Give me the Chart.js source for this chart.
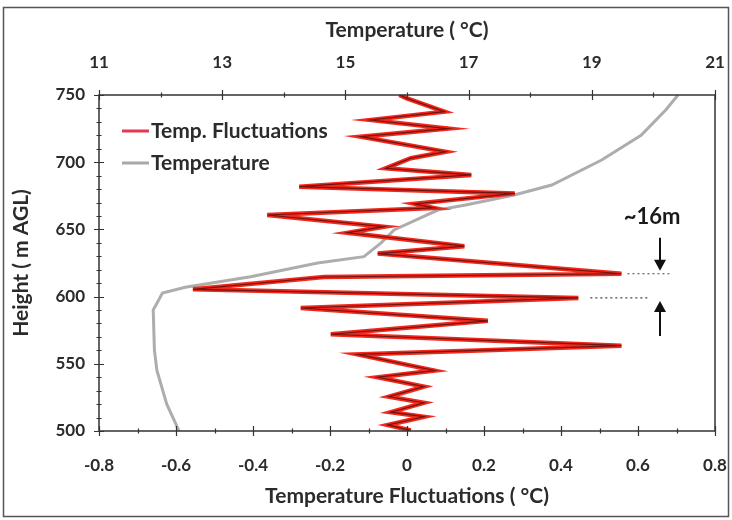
<!DOCTYPE html>
<html>
<head>
<meta charset="utf-8">
<style>
  html, body { margin: 0; padding: 0; background: #fff; }
  #wrap { width: 732px; height: 520px; }
</style>
</head>
<body>
<div id="wrap"><canvas id="myChart" width="732" height="520"></canvas></div>
<script src="https://cdn.jsdelivr.net/npm/chart.js@4.4.0/dist/chart.umd.min.js"></script>
<script>
    // profile from top (750 m) down to the ground station level (500 m)
    const fluctHeight = [750, 747.5, 737.6, 731.4, 725, 719, 707.8, 703, 695.5, 690.5, 681.8, 676.8,
        669, 666, 660.7, 652, 647.5, 637.5, 632, 617, 614.6, 605.4, 599, 591.5, 582, 572, 563.5,
        557, 545, 540, 533, 525.5, 521, 514, 510.6, 504.5, 500.5];
    const fluctValue = [-0.02, 0.0, 0.097, -0.094, 0.106, -0.12, 0.10, 0.01, -0.055, 0.167, -0.28, 0.28,
        0.02, 0.07, -0.363, -0.06, -0.154, 0.149, -0.076, 0.557, -0.216, -0.556, 0.445, -0.276, 0.21, -0.198, 0.557,
        -0.128, 0.071, -0.076, 0.044, -0.047, 0.044, -0.042, 0.044, -0.05, 0.01];

    const tempHeight = [750, 738.8, 720, 701.6, 683, 675.6, 668, 664.4, 649.6, 640, 629.7, 625, 614.8,
        607, 602.7, 590, 560, 545, 520, 500];
    const tempValue = [20.4, 20.2, 19.8, 19.16, 18.35, 17.74, 16.93, 16.5, 15.79, 15.58, 15.3, 14.55, 13.46,
        12.4, 12.03, 11.88, 11.9, 11.94, 12.1, 12.3];

    const heightTicks = [500, 550, 600, 650, 700, 750];
    const fluctTicks = [-0.8, -0.6, -0.4, -0.2, 0, 0.2, 0.4, 0.6, 0.8];
    const tempTicks = [11, 13, 15, 17, 19, 21];

    // the two peaks that bracket the marked layer
    const gapLabel = '~16m';
    const gapPeaks = [19, 22];

    const textColor = '#2b2b2b';
    const fontFamily = 'Lato, "Liberation Sans", sans-serif';

    function toPoints(xs, ys) {
        return xs.map((x, i) => ({ x: x, y: ys[i] }));
    }

    function fixedTicks(values) {
        return function (scale) {
            scale.ticks = values.map(v => ({ value: v }));
        };
    }

    // keep the plot box fixed, labels may overhang the edges
    function fixedBox(size) {
        return function (scale) {
            if (scale.isHorizontal()) scale.height = size; else scale.width = size;
            scale.paddingLeft = 0; scale.paddingRight = 0;
            scale.paddingTop = 0; scale.paddingBottom = 0;
        };
    }

    // frame, tick marks, legend and the layer annotation
    const decorations = {
        id: 'decorations',
        beforeDraw(chart) {
            const c = chart.ctx;
            c.save();
            c.fillStyle = '#fff';
            c.fillRect(0, 0, chart.width, chart.height);
            c.strokeStyle = '#555';
            c.lineWidth = 1.5;
            c.strokeRect(3.5, 7.5, chart.width - 7, chart.height - 11);
            c.restore();
        },
        afterDraw(chart) {
            const c = chart.ctx;
            const a = chart.chartArea;
            const sx = chart.scales.x, sx2 = chart.scales.x2, sy = chart.scales.y;
            c.save();
            c.strokeStyle = '#333';
            c.lineWidth = 1.5;
            c.strokeRect(a.left, a.top, a.right - a.left, a.bottom - a.top);

            c.lineWidth = 1.2;
            c.beginPath();
            // bottom axis: major every 0.2, minor every 0.1
            for (let i = -8; i <= 8; i++) {
                const px = Math.round(sx.getPixelForValue(i / 10)) + 0.5;
                const len = i % 2 === 0 ? 5 : 2.5;
                c.moveTo(px, a.bottom - len); c.lineTo(px, a.bottom + len);
            }
            // top axis: major every 2, minor every 1
            for (let t = 11; t <= 21; t++) {
                const px = Math.round(sx2.getPixelForValue(t)) + 0.5;
                const len = (t - 11) % 2 === 0 ? 5 : 2.5;
                c.moveTo(px, a.top - len); c.lineTo(px, a.top + len);
            }
            // left axis: major every 50 m, minor every 10 m
            for (let h = 500; h <= 750; h += 10) {
                const py = Math.round(sy.getPixelForValue(h)) + 0.5;
                const len = h % 50 === 0 ? 5 : 2.5;
                c.moveTo(a.left - len, py); c.lineTo(a.left + len, py);
            }
            c.stroke();

            // legend
            c.font = 'bold 21px ' + fontFamily;
            c.textBaseline = 'middle';
            const items = [['Temp. Fluctuations', '#e8384f', 131], ['Temperature', '#a8a8a8', 163]];
            items.forEach(([label, color, y]) => {
                c.strokeStyle = color;
                c.lineWidth = 3;
                c.beginPath(); c.moveTo(122, y); c.lineTo(149, y); c.stroke();
                c.fillStyle = textColor;
                c.fillText(label, 151, y);
            });

            // dotted lines at the two peaks and the arrows between them
            const p1 = { x: sx.getPixelForValue(fluctValue[gapPeaks[0]]), y: sy.getPixelForValue(fluctHeight[gapPeaks[0]]) };
            const p2 = { x: sx.getPixelForValue(fluctValue[gapPeaks[1]]), y: sy.getPixelForValue(fluctHeight[gapPeaks[1]]) };
            const ax = 660;
            c.strokeStyle = '#444';
            c.lineWidth = 1.2;
            c.setLineDash([2, 3]);
            c.beginPath();
            c.moveTo(p1.x + 6, p1.y); c.lineTo(672, p1.y);
            c.moveTo(p2.x + 12, p2.y); c.lineTo(648, p2.y);
            c.stroke();
            c.setLineDash([]);

            c.strokeStyle = '#111';
            c.fillStyle = '#111';
            c.lineWidth = 2;
            c.beginPath();
            c.moveTo(ax, p1.y - 36); c.lineTo(ax, p1.y - 8);
            c.moveTo(ax, p2.y + 38); c.lineTo(ax, p2.y + 8);
            c.stroke();
            c.beginPath();
            c.moveTo(ax - 6, p1.y - 14); c.lineTo(ax + 6, p1.y - 14); c.lineTo(ax, p1.y - 3); c.closePath();
            c.moveTo(ax - 6, p2.y + 14); c.lineTo(ax + 6, p2.y + 14); c.lineTo(ax, p2.y + 3); c.closePath();
            c.fill();

            c.font = 'bold 22px ' + fontFamily;
            c.textAlign = 'center';
            c.fillStyle = '#1a1a1a';
            c.fillText(gapLabel, 652, p1.y - 57);
            c.restore();
        }
    };

    const ctx = document.getElementById('myChart');
    const tickFont = { family: fontFamily, size: 17, weight: 'bold' };
    const titleFont = { family: fontFamily, size: 21, weight: 'bold' };

    let chart = new Chart(ctx, {
        type: 'scatter',
        data: {
            datasets: [{
                label: 'Temp. Fluctuations',
                data: toPoints(fluctValue, fluctHeight),
                xAxisID: 'x',
                showLine: true,
                borderColor: '#6e1410',
                borderWidth: 1.2,
                pointRadius: 0,
                order: 0
            }, {
                label: 'Temp. Fluctuations',
                data: toPoints(fluctValue, fluctHeight),
                xAxisID: 'x',
                showLine: true,
                borderColor: '#f3281c',
                borderWidth: 4.5,
                pointRadius: 0,
                order: 1
            }, {
                label: 'Temperature',
                data: toPoints(tempValue, tempHeight),
                xAxisID: 'x2',
                showLine: true,
                borderColor: '#adadad',
                borderWidth: 3,
                pointRadius: 0,
                order: 2
            }]
        },
        options: {
            responsive: false,
            animation: false,
            layout: { padding: { left: 6, top: 8, right: 17, bottom: 10 } },
            plugins: { legend: { display: false }, tooltip: { enabled: false } },
            scales: {
                x: {
                    type: 'linear', position: 'bottom', min: -0.8, max: 0.8,
                    afterBuildTicks: fixedTicks(fluctTicks),
                    afterFit: fixedBox(79),
                    grid: { display: false, drawTicks: false },
                    border: { display: false },
                    ticks: { color: textColor, font: tickFont, padding: 24, maxRotation: 0, autoSkip: false },
                    title: { display: true, text: 'Temperature Fluctuations ( °C)', color: textColor, font: titleFont, padding: 1 }
                },
                x2: {
                    type: 'linear', position: 'top', min: 11, max: 21,
                    afterBuildTicks: fixedTicks(tempTicks),
                    afterFit: fixedBox(87),
                    grid: { display: false, drawTicks: false },
                    border: { display: false },
                    ticks: { color: textColor, font: tickFont, padding: 22, maxRotation: 0, autoSkip: false },
                    title: { display: true, text: 'Temperature ( °C)', color: textColor, font: titleFont, padding: 10 }
                },
                y: {
                    type: 'linear', position: 'left', min: 500, max: 750,
                    afterBuildTicks: fixedTicks(heightTicks),
                    afterFit: fixedBox(93),
                    grid: { display: false, drawTicks: false },
                    border: { display: false },
                    ticks: { color: textColor, font: tickFont, padding: 14 },
                    title: { display: true, text: 'Height ( m AGL)', color: textColor, font: titleFont, padding: 3 }
                }
            }
        },
        plugins: [decorations]
    });
</script>
</body>
</html>
